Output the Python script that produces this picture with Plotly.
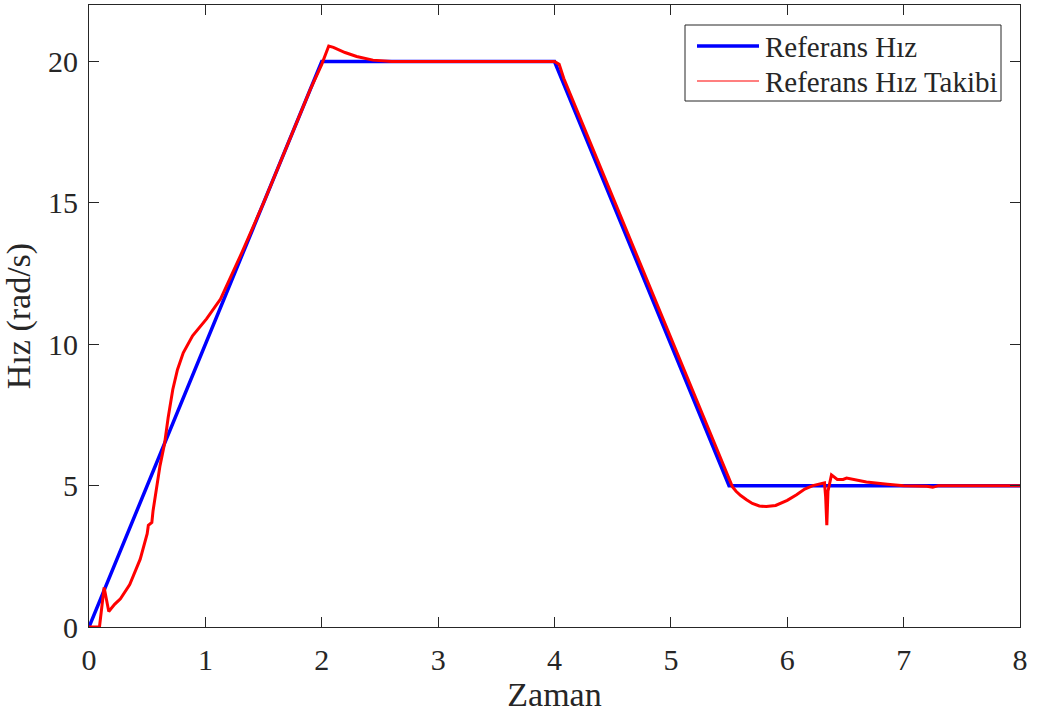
import plotly.graph_objects as go

# Reference speed profile (trapezoid)
ref_t = [0, 2, 4, 5.5, 8]
ref_w = [0, 20, 20, 5, 5]

# Measured speed tracking the reference
trk_t = [0, 0.09, 0.13, 0.17, 0.22, 0.27, 0.35, 0.44, 0.50, 0.51, 0.54, 0.55,
         0.61, 0.65, 0.68, 0.72, 0.76, 0.81, 0.89, 1.01, 1.13, 1.21, 1.32, 1.5,
         1.7, 1.9, 2.0, 2.06, 2.1, 2.2, 2.3, 2.44, 2.6, 3.0, 3.5, 4.0, 4.04, 4.08,
         4.2, 4.5, 4.8, 5.1, 5.4, 5.5, 5.53, 5.56, 5.6, 5.65, 5.7, 5.76, 5.82,
         5.9, 6.0, 6.08, 6.15, 6.22, 6.28,
         6.32, 6.33, 6.34, 6.35, 6.38, 6.43, 6.48, 6.51, 6.68, 6.86, 7.0, 7.2,
         7.25, 7.3, 7.6, 8.0]
trk_w = [0, 0, 1.4, 0.55, 0.8, 1.0, 1.5, 2.4, 3.3, 3.6, 3.7, 4.1,
         5.7, 6.5, 7.4, 8.4, 9.1, 9.7, 10.3, 10.9, 11.6, 12.3, 13.3, 15.0,
         17.0, 19.0, 19.9, 20.55, 20.5, 20.32, 20.18, 20.05, 20.0, 20.0, 20.0, 20.0, 19.9, 19.4,
         18.2, 15.2, 12.2, 9.2, 6.2, 5.2, 4.95, 4.8, 4.65, 4.5, 4.37, 4.28, 4.26,
         4.3, 4.48, 4.68, 4.88, 5.0, 5.06,
         5.1, 4.6, 3.6, 4.8, 5.38, 5.22, 5.22, 5.27, 5.13, 5.05, 5.0, 4.98,
         4.94, 5.0, 5.0, 5.0]

x_ticks = [0, 1, 2, 3, 4, 5, 6, 7, 8]
y_ticks = [0, 5, 10, 15, 20]

series_names = ["Referans Hız", "Referans Hız Takibi"]
series_colors = ["#0000ff", "#ff0000"]
legend_widths = [3.5, 1.2]

FONT = "Liberation Serif, Times New Roman, serif"
INK = "#262626"

# plot area in pixels
L, R, T, B = 89, 1020, 5, 627
W, H = 1039, 718


def px(x):
    return (x - L) / (R - L)


def py(y):
    return (B - y) / (B - T)


fig = go.Figure()
fig.add_trace(go.Scatter(x=ref_t, y=ref_w, mode="lines", name=series_names[0],
                         line=dict(color=series_colors[0], width=3.5)))
fig.add_trace(go.Scatter(x=trk_t, y=trk_w, mode="lines", name=series_names[1],
                         line=dict(color=series_colors[1], width=3)))

axis_common = dict(showgrid=False, zeroline=False, showline=True, linecolor=INK,
                   linewidth=1.2, mirror="ticks", ticks="inside", ticklen=10,
                   tickwidth=1.2, tickcolor=INK,
                   tickfont=dict(family=FONT, size=30, color=INK))

# boxed legend in the upper right corner
shapes = [dict(type="rect", xref="paper", yref="paper",
               x0=px(685), x1=px(1001), y0=py(101), y1=py(25),
               line=dict(color=INK, width=1), fillcolor="white", layer="above")]
annotations = []
rows_y = [46, 81]
for name, col, lw, ry in zip(series_names, series_colors, legend_widths, rows_y):
    shapes.append(dict(type="line", xref="paper", yref="paper",
                       x0=px(697), x1=px(759), y0=py(ry), y1=py(ry),
                       line=dict(color=col, width=lw), layer="above"))
    annotations.append(dict(text=name, xref="paper", yref="paper",
                            x=px(763), y=py(ry + 1), xanchor="left", yanchor="middle",
                            showarrow=False,
                            font=dict(family=FONT, size=29, color=INK)))

fig.update_layout(
    width=W, height=H,
    margin=dict(l=L, r=W - R, t=T, b=H - B),
    plot_bgcolor="white", paper_bgcolor="white",
    font=dict(family=FONT, color=INK, size=30),
    xaxis=dict(range=[0, 8], tickvals=x_ticks, ticklabelstandoff=6,
               title=dict(text="Zaman", font=dict(family=FONT, size=34, color=INK), standoff=6),
               **axis_common),
    yaxis=dict(range=[0, 22], tickvals=y_ticks, ticklabelstandoff=4,
               title=dict(text="Hız (rad/s)", font=dict(family=FONT, size=34, color=INK), standoff=8),
               **axis_common),
    showlegend=False,
    shapes=shapes,
    annotations=annotations,
)

fig.write_html("out.html")
